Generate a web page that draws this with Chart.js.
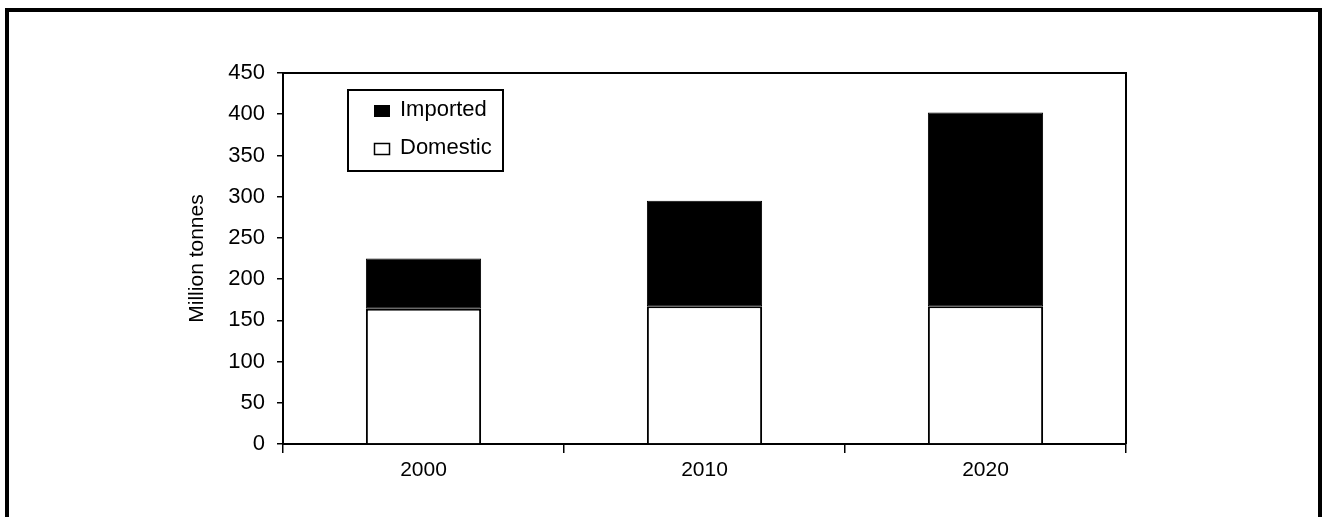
<!DOCTYPE html>
<html>
<head>
<meta charset="utf-8">
<script src="https://cdn.jsdelivr.net/npm/chart.js@4/dist/chart.umd.min.js"></script>
<style>
  body { margin: 0; background: #fff; }
  #frame { position: absolute; left: 5px; top: 8px; width: 1317px; height: 600px; border: 4px solid #000; box-sizing: border-box; }
  #myChart { position: absolute; left: 0; top: 0; }
</style>
</head>
<body>
<div id="frame"></div>
<canvas id="myChart" width="1325" height="517"></canvas>
<script>
const years = ["2000", "2010", "2020"];
const domestic = [164, 167, 167];
const imported = [61, 128, 235];
const yTicks = [0, 50, 100, 150, 200, 250, 300, 350, 400, 450];
const legendNames = ["Imported", "Domestic"];

const fontName = "'Liberation Sans', Arial, sans-serif";

// frame round the plot and the boxed legend
const boxPlugin = {
    id: "boxPlugin",
    afterDraw(chart) {
        const ctx = chart.ctx;
        const a = chart.chartArea;
        ctx.save();
        ctx.strokeStyle = "#000";
        ctx.lineWidth = 2;
        ctx.beginPath();
        ctx.moveTo(a.left, a.top);
        ctx.lineTo(a.right, a.top);
        ctx.lineTo(a.right, a.bottom);
        ctx.stroke();

        // legend
        ctx.strokeRect(348, 90, 155, 81);
        ctx.font = "22px " + fontName;
        ctx.textBaseline = "middle";
        ctx.fillStyle = "#000";
        ctx.fillRect(374, 105, 16, 12);
        ctx.fillText(legendNames[0], 400, 110);
        ctx.lineWidth = 1.5;
        ctx.fillStyle = "#fff";
        ctx.fillRect(374, 143, 16, 12);
        ctx.strokeRect(374.5, 143.5, 15, 11);
        ctx.fillStyle = "#000";
        ctx.fillText(legendNames[1], 400, 148);
        ctx.restore();
    }
};

const ctx = document.getElementById("myChart").getContext("2d");
const myChart = new Chart(ctx, {
    type: "bar",
    data: {
        labels: years,
        datasets: [{
            label: "Domestic",
            data: domestic,
            backgroundColor: "#fff",
            borderColor: "#000",
            borderWidth: 2,
            borderSkipped: "bottom",
            stack: "s",
        }, {
            label: "Imported",
            data: imported,
            backgroundColor: "#000",
            borderColor: "#000",
            borderWidth: 1,
            borderSkipped: false,
            stack: "s",
        }],
    },
    options: {
        responsive: false,
        animation: false,
        layout: { padding: { left: 185, right: 199, top: 73, bottom: 20 } },
        plugins: {
            legend: { display: false },
            tooltip: { enabled: false },
        },
        datasets: { bar: { categoryPercentage: 1, barPercentage: 0.41 } },
        scales: {
            x: {
                stacked: true,
                afterFit(scale) { scale.height = 53; },
                grid: { offset: true, drawOnChartArea: false, tickLength: 9, color: "#000", lineWidth: 1.5 },
                border: { color: "#000", width: 2 },
                ticks: { color: "#000", font: { family: fontName, size: 21 }, padding: 5 },
            },
            y: {
                stacked: true,
                min: 0,
                max: 450,
                afterFit(scale) { scale.width = 98; },
                afterBuildTicks(scale) { scale.ticks = yTicks.map(v => ({ value: v })); },
                grid: { drawOnChartArea: false, tickLength: 6, color: "#000", lineWidth: 1.5 },
                border: { color: "#000", width: 2 },
                ticks: { color: "#000", font: { family: fontName, size: 22 }, padding: 12 },
                title: {
                    display: true,
                    text: "Million tonnes",
                    color: "#000",
                    font: { family: fontName, size: 21 },
                    padding: { top: 0, bottom: 0 },
                },
            },
        },
    },
    plugins: [boxPlugin],
});
</script>
</body>
</html>
